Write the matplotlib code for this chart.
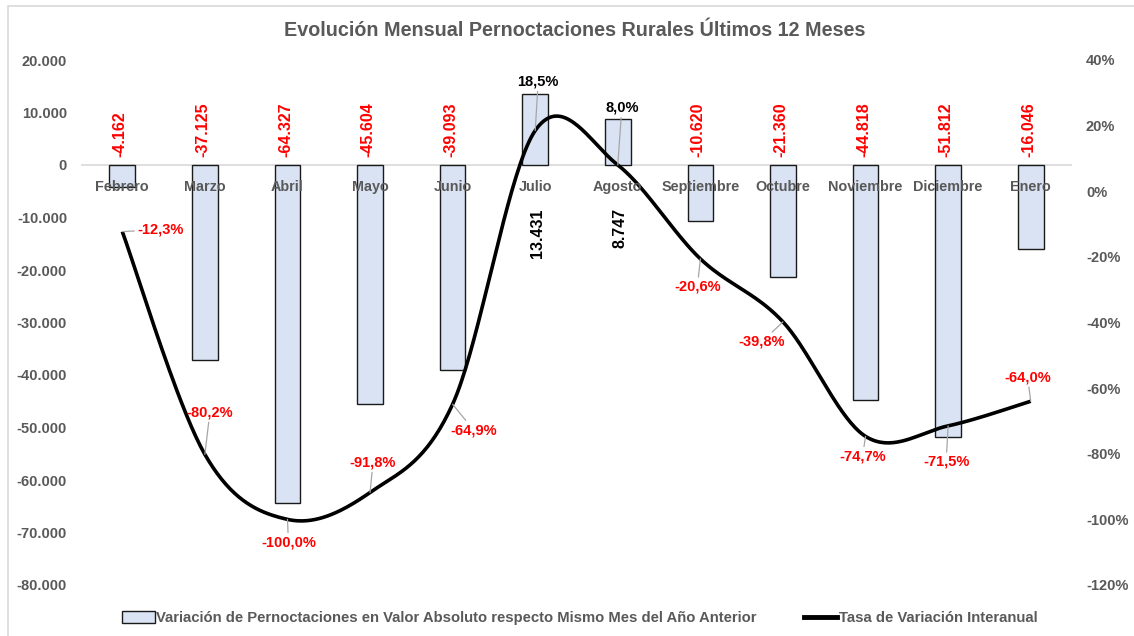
import numpy as np
import matplotlib
matplotlib.use("Agg")
from matplotlib import pyplot as plt
from matplotlib.patches import Rectangle

# Datos del grafico
meses = ["Febrero", "Marzo", "Abril", "Mayo", "Junio", "Julio", "Agosto",
         "Septiembre", "Octubre", "Noviembre", "Diciembre", "Enero"]
variacion_abs = [-4162, -37125, -64327, -45604, -39093, 13431, 8747,
                 -10620, -21360, -44818, -51812, -16046]
tasa_var = [-12.3, -80.2, -100.0, -91.8, -64.9, 18.5, 8.0,
            -20.6, -39.8, -74.7, -71.5, -64.0]

ticks_izq = [20000, 10000, 0, -10000, -20000, -30000, -40000,
             -50000, -60000, -70000, -80000]
ticks_der = [40, 20, 0, -20, -40, -60, -80, -100, -120]

# desplazamiento (px) de cada etiqueta de la tasa respecto a su punto
desp_tasa = [(38, 2), (5, 42), (1, -23), (3, 30), (21, -26), (3, 49),
             (4, 57), (-3, -28), (-21, -20), (-3, -20), (-2, -36), (-3, 24)]

GRIS = "#595959"
plt.rcParams['font.family'] = ['Liberation Sans', 'DejaVu Sans']


def miles(v):
    return f"{v:,}".replace(",", ".")


def pct(v):
    return f"{v:.1f}%".replace(".", ",")


# curva suavizada estilo Excel (Catmull-Rom con Bezier)
def suavizar(xs, ys, n=40):
    pts = np.column_stack([xs, ys]).astype(float)
    p = np.vstack([pts[0], pts, pts[-1]])
    t = np.linspace(0, 1, n)[:, None]
    trozos = []
    for i in range(1, len(p) - 2):
        p0, p1, p2, p3 = p[i - 1], p[i], p[i + 1], p[i + 2]
        c1 = p1 + (p2 - p0) / 6
        c2 = p2 - (p3 - p1) / 6
        seg = ((1 - t) ** 3) * p1 + 3 * (1 - t) ** 2 * t * c1 \
            + 3 * (1 - t) * t ** 2 * c2 + t ** 3 * p2
        trozos.append(seg if i == 1 else seg[1:])
    curva = np.vstack(trozos)
    return curva[:, 0], curva[:, 1]


fig = plt.figure(figsize=(11.34, 6.36), dpi=100)
ax = fig.add_axes([81 / 1134, 1 - 585 / 636, (1072 - 81) / 1134, 525 / 636])
ax2 = ax.twinx()

x = np.arange(len(meses))

# barras
ax.bar(x, variacion_abs, width=0.31, color="#dae3f3", edgecolor="#1a1a1a",
       linewidth=1, zorder=2)
ax.axhline(0, color="#d9d9d9", linewidth=1.2, zorder=1)
ax.set_ylim(-80000, 20000)
ax.set_xlim(-0.5, len(meses) - 0.5)
ax.set_yticks(ticks_izq)
ax.set_yticklabels([miles(v) for v in ticks_izq])
ax.set_xticks([])

for i, v in enumerate(variacion_abs):
    if v < 0:
        ax.annotate(miles(v), (i, 0), xytext=(-2, 8), textcoords="offset pixels",
                    rotation=90, ha="center", va="bottom", color="red",
                    fontsize=11.5, fontweight="bold", zorder=5)
    else:
        ax.annotate(miles(v), (i, 0), xytext=(2, -43), textcoords="offset pixels",
                    rotation=90, ha="center", va="top", color="black",
                    fontsize=11.5, fontweight="bold", zorder=5)

# linea de la tasa
xs, ys = suavizar(x, tasa_var)
ax2.plot(xs, ys, color="black", linewidth=2.6, solid_capstyle="butt", zorder=4)
ax2.set_ylim(-120, 40)
ax2.set_yticks(ticks_der)
ax2.set_yticklabels([f"{v}%" for v in ticks_der])

# nombres de los meses, justo debajo del eje cero
for i, m in enumerate(meses):
    ax2.annotate(m, xy=(i, 0), xycoords=ax.transData, xytext=(0, -22),
                 textcoords="offset pixels", ha="center", va="center",
                 color=GRIS, fontsize=10.4, fontweight="bold", zorder=6)

for i, v in enumerate(tasa_var):
    col = "red" if v < 0 else "black"
    ax2.annotate(pct(v), xy=(i, v), xytext=desp_tasa[i],
                 textcoords="offset pixels", ha="center", va="center",
                 color=col, fontsize=10.5, fontweight="bold", zorder=7,
                 arrowprops=dict(arrowstyle="-", color="#a6a6a6", lw=0.9,
                                 shrinkA=0, shrinkB=0))

for a in (ax, ax2):
    for s in a.spines.values():
        s.set_visible(False)
    a.tick_params(axis="y", length=0, pad=10, labelsize=10.5,
                  labelcolor=GRIS)
    for lab in a.get_yticklabels():
        lab.set_fontweight("bold")

fig.text(0.507, 1 - 31 / 636, "Evolución Mensual Pernoctaciones Rurales Últimos 12 Meses",
         ha="center", va="center", fontsize=14.2, fontweight="bold", color=GRIS)

# leyenda
h1 = Rectangle((0, 0), 1, 1, facecolor="#dae3f3", edgecolor="#1a1a1a", lw=1)
h2 = plt.Line2D([0], [0], color="black", lw=3.5)
fig.legend([h1, h2],
           ["Variación de Pernoctaciones en Valor Absoluto respecto Mismo Mes del Año Anterior",
            "Tasa de Variación Interanual"],
           loc="center", bbox_to_anchor=(0.511, 1 - 618 / 636), ncol=2,
           frameon=False, handlelength=2.2, handleheight=0.8, handletextpad=0.1,
           columnspacing=3.2, prop=dict(size=10.75, weight="bold"),
           labelcolor=GRIS)

# borde del area del grafico
fig.add_artist(Rectangle((8 / 1134, -0.1), 1.2, 1 - 6 / 636 + 0.1,
                         transform=fig.transFigure, fill=False,
                         edgecolor="#d9d9d9", linewidth=1.2))

fig.savefig("out.png", dpi=100)
